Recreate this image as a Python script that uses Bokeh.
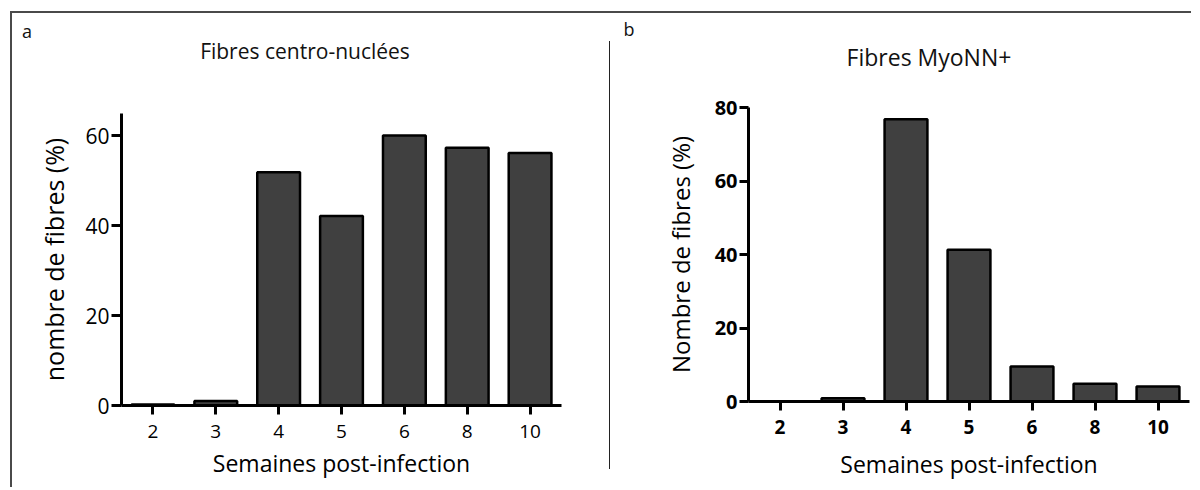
from bokeh.plotting import figure
from bokeh.models import FactorRange, Range1d, FixedTicker, Div, ColumnDataSource
from bokeh.layouts import row, column
from bokeh.embed import file_html
from bokeh.resources import INLINE

# ---- data ----
weeks = ["2", "3", "4", "5", "6", "8", "10"]
centro_nuclees = [0.2, 1.0, 51.9, 42.2, 60.1, 57.4, 56.2]
myonn_pos = [0.0, 0.9, 76.8, 41.3, 9.5, 4.8, 4.1]
ticks_a = [0, 20, 40, 60]
ticks_b = [0, 20, 40, 60, 80]
title_a = "Fibres centro-nuclées"
title_b = "Fibres MyoNN+"
ylabel_a = "nombre de fibres (%)"
ylabel_b = "Nombre de fibres (%)"
xlabel = "Semaines post-infection"

FONT = "Open Sans"
BAR_FILL = "#404040"
FIG_H = 474


def make_panel(values, ymax, yticks, ylabel, bold_ticks, width, height, borders,
               ytick_out, ylab_standoff, xlab_standoff, xtitle_standoff):
    left, right, top, bottom = borders
    p = figure(x_range=FactorRange(*weeks, range_padding=0),
               y_range=Range1d(0, ymax),
               width=width, height=height, title=None,
               min_border_left=left, min_border_right=right,
               min_border_top=top, min_border_bottom=bottom,
               output_backend="svg", toolbar_location=None,
               background_fill_color="white", border_fill_color="white")
    p.outline_line_color = None
    p.xgrid.grid_line_color = None
    p.ygrid.grid_line_color = None
    src = ColumnDataSource(dict(x=weeks, top=values))
    p.vbar(x="x", top="top", width=0.68, source=src,
           fill_color=BAR_FILL, line_color="black", line_width=2.5)

    p.yaxis.ticker = FixedTicker(ticks=yticks)
    for ax in (p.xaxis, p.yaxis):
        ax.axis_line_width = 3
        ax.axis_line_color = "black"
        ax.major_tick_line_width = 3
        ax.major_tick_line_color = "black"
        ax.major_tick_in = 0
        ax.minor_tick_line_color = None
        ax.major_label_text_font = FONT
        ax.major_label_text_color = "black"
        ax.major_label_text_font_style = "bold" if bold_ticks else "normal"
        ax.axis_label_text_font = FONT
        ax.axis_label_text_font_style = "normal"
        ax.axis_label_text_color = "black"
    p.yaxis.major_tick_out = ytick_out
    p.yaxis.major_label_standoff = 2
    p.yaxis.major_label_text_font_size = "21px" if not bold_ticks else "20px"
    p.yaxis.axis_label = ylabel
    p.yaxis.axis_label_text_font_size = "25px" if not bold_ticks else "24px"
    p.yaxis.axis_label_standoff = ylab_standoff
    p.xaxis.major_tick_out = 9
    p.xaxis.major_label_standoff = xlab_standoff
    p.xaxis.major_label_text_font_size = "19px"
    p.xaxis.axis_label = xlabel
    p.xaxis.axis_label_text_font_size = "23px"
    p.xaxis.axis_label_standoff = xtitle_standoff
    return p


def header(width, height, letter, lx, ly, title, tx, ty, tsize):
    html = (
        f'<div style="position:relative;width:{width}px;height:{height}px;'
        f'font-family:\'{FONT}\';color:#111111;">'
        f'<span style="position:absolute;left:{lx}px;top:{ly}px;'
        f'transform:translate(-50%,-50%);font-size:18px;line-height:1;">{letter}</span>'
        f'<span style="position:absolute;left:{tx}px;top:{ty}px;white-space:nowrap;'
        f'transform:translate(-50%,-50%);font-size:{tsize}px;line-height:1;">{title}</span>'
        f'</div>'
    )
    return Div(text=html, width=width, height=height, margin=(0, 0, 0, 0))


HEAD_A, HEAD_B = 100, 80
p1 = make_panel(centro_nuclees, 65, ticks_a, ylabel_a, False,
                597, FIG_H - HEAD_A, (109, 48, 0, 82), 10, 11, 10, 6)
p2 = make_panel(myonn_pos, 80, ticks_b, ylabel_b, True,
                580, FIG_H - HEAD_B, (138, 1, 14, 86), 9, 15, 9, 11)

head_a = header(597, HEAD_A, "a", 15, 18, title_a, 293, 38, 21)
head_b = header(580, HEAD_B, "b", 19, 16, title_b, 319, 44, 23)

top_line = Div(text="", width=1181, height=2, margin=(11, 0, 0, 10),
               styles={"background-color": "#4a4a4a"})
left_line = Div(text="", width=2, height=FIG_H, margin=(0, 0, 0, 10),
                styles={"background-color": "#4a4a4a"})
sep_line = Div(text="", width=1, height=428, margin=(28, 0, 0, 0),
               styles={"background-color": "#222222"})

layout = column(top_line,
                row(left_line, column(head_a, p1), sep_line, column(head_b, p2)))

open("out.html", "w").write(file_html(layout, INLINE))
